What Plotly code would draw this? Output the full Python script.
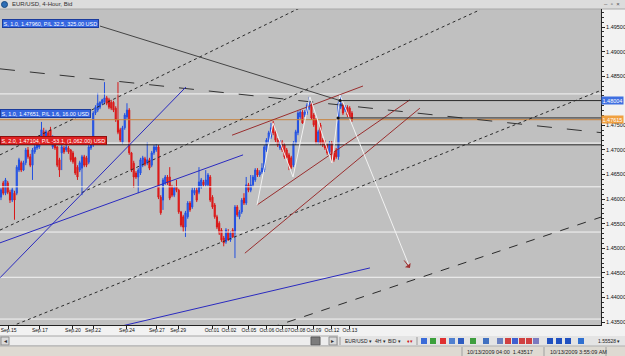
import plotly.graph_objects as go

# ---------------- data (EUR/USD 4-hour bars) ----------------
open_ = [1.4604, 1.4633, 1.4612, 1.4633, 1.4614, 1.4598, 1.4612, 1.4612, 1.4659, 1.4674,
         1.4659, 1.4674, 1.4700, 1.4686, 1.4669, 1.4696, 1.4704, 1.4706, 1.4726, 1.4737,
         1.4726, 1.4735, 1.4741, 1.4706, 1.4720, 1.4706, 1.4680, 1.4694, 1.4704, 1.4700,
         1.4704, 1.4700, 1.4694, 1.4684, 1.4665, 1.4659, 1.4663, 1.4686, 1.4684, 1.4675,
         1.4704, 1.4710, 1.4775, 1.4781, 1.4787, 1.4795, 1.4797, 1.4806, 1.4802, 1.4797,
         1.4797, 1.4785, 1.4761, 1.4741, 1.4716, 1.4745, 1.4767, 1.4781, 1.4694, 1.4673,
         1.4653, 1.4645, 1.4653, 1.4669, 1.4682, 1.4673, 1.4680, 1.4669, 1.4694, 1.4700,
         1.4706, 1.4604, 1.4598, 1.4633, 1.4645, 1.4645, 1.4625, 1.4608, 1.4625, 1.4618,
         1.4574, 1.4564, 1.4543, 1.4564, 1.4592, 1.4584, 1.4612, 1.4618, 1.4614, 1.4625,
         1.4635, 1.4629, 1.4629, 1.4645, 1.4604, 1.4588, 1.4564, 1.4551, 1.4537, 1.4521,
         1.4513, 1.4533, 1.4517, 1.4537, 1.4531, 1.4584, 1.4564, 1.4574, 1.4602, 1.4592,
         1.4629, 1.4618, 1.4629, 1.4639, 1.4659, 1.4649, 1.4655, 1.4659, 1.4700, 1.4716,
         1.4726, 1.4755, 1.4737, 1.4720, 1.4704, 1.4716, 1.4710, 1.4700, 1.4690, 1.4684,
         1.4669, 1.4714, 1.4735, 1.4767, 1.4777, 1.4771, 1.4775, 1.4785, 1.4793, 1.4771,
         1.4761, 1.4716, 1.4751, 1.4720, 1.4716, 1.4710, 1.4696, 1.4714, 1.4694, 1.4700,
         1.4686, 1.4787, 1.4791, 1.4781, 1.4787, 1.4785, 1.4775]
high_ = [1.4623, 1.4637, 1.4643, 1.4637, 1.4619, 1.4623, 1.4617, 1.4669, 1.4684, 1.4678,
         1.4678, 1.4704, 1.4706, 1.4692, 1.4704, 1.4710, 1.4714, 1.4730, 1.4757, 1.4745,
         1.4741, 1.4739, 1.4747, 1.4730, 1.4724, 1.4708, 1.4684, 1.4710, 1.4708, 1.4710,
         1.4708, 1.4702, 1.4698, 1.4686, 1.4669, 1.4678, 1.4690, 1.4690, 1.4688, 1.4710,
         1.4714, 1.4779, 1.4791, 1.4816, 1.4799, 1.4804, 1.4838, 1.4810, 1.4806, 1.4802,
         1.4800, 1.4789, 1.4838, 1.4745, 1.4749, 1.4775, 1.4795, 1.4785, 1.4696, 1.4678,
         1.4657, 1.4663, 1.4684, 1.4688, 1.4686, 1.4716, 1.4684, 1.4698, 1.4710, 1.4712,
         1.4710, 1.4608, 1.4643, 1.4649, 1.4649, 1.4665, 1.4629, 1.4627, 1.4639, 1.4621,
         1.4576, 1.4568, 1.4576, 1.4596, 1.4596, 1.4623, 1.4623, 1.4623, 1.4665, 1.4643,
         1.4639, 1.4659, 1.4653, 1.4649, 1.4608, 1.4592, 1.4568, 1.4555, 1.4541, 1.4525,
         1.4541, 1.4539, 1.4535, 1.4541, 1.4588, 1.4588, 1.4578, 1.4602, 1.4612, 1.4645,
         1.4633, 1.4649, 1.4649, 1.4663, 1.4663, 1.4659, 1.4673, 1.4710, 1.4724, 1.4739,
         1.4755, 1.4759, 1.4741, 1.4724, 1.4720, 1.4720, 1.4714, 1.4704, 1.4694, 1.4688,
         1.4718, 1.4741, 1.4779, 1.4781, 1.4781, 1.4781, 1.4795, 1.4808, 1.4797, 1.4775,
         1.4765, 1.4741, 1.4755, 1.4724, 1.4720, 1.4714, 1.4718, 1.4718, 1.4698, 1.4704,
         1.4799, 1.4812, 1.4795, 1.4791, 1.4791, 1.4789, 1.4779]
low_ = [1.4598, 1.4608, 1.4608, 1.4610, 1.4592, 1.4594, 1.4558, 1.4608, 1.4655, 1.4655,
        1.4657, 1.4669, 1.4682, 1.4665, 1.4639, 1.4692, 1.4700, 1.4702, 1.4722, 1.4720,
        1.4722, 1.4716, 1.4722, 1.4702, 1.4700, 1.4665, 1.4645, 1.4659, 1.4692, 1.4696,
        1.4692, 1.4676, 1.4672, 1.4649, 1.4639, 1.4655, 1.4608, 1.4665, 1.4665, 1.4671,
        1.4700, 1.4706, 1.4771, 1.4777, 1.4783, 1.4791, 1.4793, 1.4791, 1.4783, 1.4781,
        1.4777, 1.4757, 1.4732, 1.4716, 1.4712, 1.4741, 1.4763, 1.4690, 1.4655, 1.4623,
        1.4641, 1.4612, 1.4649, 1.4665, 1.4667, 1.4669, 1.4659, 1.4665, 1.4690, 1.4696,
        1.4600, 1.4568, 1.4578, 1.4629, 1.4629, 1.4598, 1.4604, 1.4604, 1.4614, 1.4570,
        1.4543, 1.4533, 1.4523, 1.4560, 1.4574, 1.4580, 1.4608, 1.4594, 1.4610, 1.4621,
        1.4625, 1.4625, 1.4625, 1.4594, 1.4580, 1.4560, 1.4539, 1.4527, 1.4513, 1.4504,
        1.4509, 1.4515, 1.4513, 1.4521, 1.4480, 1.4564, 1.4559, 1.4570, 1.4588, 1.4588,
        1.4614, 1.4614, 1.4625, 1.4635, 1.4645, 1.4645, 1.4651, 1.4655, 1.4696, 1.4712,
        1.4722, 1.4730, 1.4716, 1.4706, 1.4700, 1.4696, 1.4682, 1.4680, 1.4659, 1.4661,
        1.4665, 1.4710, 1.4730, 1.4763, 1.4753, 1.4767, 1.4771, 1.4781, 1.4761, 1.4747,
        1.4712, 1.4712, 1.4710, 1.4706, 1.4700, 1.4690, 1.4692, 1.4673, 1.4676, 1.4682,
        1.4680, 1.4783, 1.4771, 1.4777, 1.4767, 1.4763, 1.4757]
close_ = [1.4619, 1.4612, 1.4639, 1.4614, 1.4598, 1.4619, 1.4598, 1.4665, 1.4680, 1.4659,
          1.4674, 1.4700, 1.4686, 1.4669, 1.4700, 1.4706, 1.4710, 1.4726, 1.4741, 1.4726,
          1.4737, 1.4720, 1.4726, 1.4726, 1.4704, 1.4669, 1.4659, 1.4706, 1.4696, 1.4706,
          1.4696, 1.4680, 1.4676, 1.4653, 1.4645, 1.4674, 1.4686, 1.4669, 1.4669, 1.4706,
          1.4710, 1.4775, 1.4787, 1.4795, 1.4797, 1.4802, 1.4806, 1.4795, 1.4787, 1.4785,
          1.4781, 1.4761, 1.4736, 1.4720, 1.4745, 1.4771, 1.4781, 1.4694, 1.4659, 1.4645,
          1.4645, 1.4659, 1.4680, 1.4684, 1.4671, 1.4680, 1.4663, 1.4694, 1.4706, 1.4706,
          1.4604, 1.4572, 1.4639, 1.4645, 1.4633, 1.4602, 1.4608, 1.4623, 1.4618, 1.4574,
          1.4547, 1.4543, 1.4572, 1.4592, 1.4578, 1.4618, 1.4618, 1.4598, 1.4635, 1.4639,
          1.4629, 1.4639, 1.4649, 1.4598, 1.4584, 1.4564, 1.4543, 1.4531, 1.4517, 1.4511,
          1.4537, 1.4517, 1.4531, 1.4523, 1.4584, 1.4568, 1.4574, 1.4598, 1.4592, 1.4629,
          1.4618, 1.4629, 1.4645, 1.4659, 1.4649, 1.4655, 1.4663, 1.4706, 1.4720, 1.4735,
          1.4745, 1.4735, 1.4720, 1.4710, 1.4716, 1.4700, 1.4686, 1.4684, 1.4669, 1.4665,
          1.4714, 1.4737, 1.4775, 1.4777, 1.4755, 1.4777, 1.4791, 1.4798, 1.4765, 1.4751,
          1.4716, 1.4737, 1.4714, 1.4710, 1.4704, 1.4694, 1.4714, 1.4690, 1.4680, 1.4686,
          1.4795, 1.4795, 1.4775, 1.4787, 1.4771, 1.4767, 1.47615]
bar_index = list(range(len(open_)))

date_labels = ["Sep.15", "Sep.17", "Sep.20", "Sep.22", "Sep.24", "Sep.27", "Sep.29", "Oct.01",
               "Oct.02", "Oct.05", "Oct.06", "Oct.07", "Oct.08", "Oct.09", "Oct.12", "Oct.13"]
date_bar_pos = [3.4, 17.3, 32.0, 40.9, 56.0, 69.3, 78.7, 93.8,
                101.3, 110.2, 118.2, 125.3, 132.0, 139.1, 147.1, 155.1]
price_ticks = [1.435, 1.440, 1.445, 1.450, 1.455, 1.460, 1.465,
               1.470, 1.475, 1.480, 1.485, 1.490, 1.495]
hidden_tick = 1.480  # covered by the blue price tag in the picture

# drawn horizontal levels and trade levels
level_prices = [1.4814, 1.4714, 1.4625, 1.4533, 1.4441, 1.4356]
last_bid = 1.47615
alert_price = 1.48004
trade_labels = ["S, 1.0, 1.47960, P/L 32.5, 325.00 USD",
                "S, 1.0, 1.47651, P/L 1.6, 16.00 USD",
                "S, 2.0, 1.47104, P/L -53.1, (1,062.00) USD"]
trade_prices = [1.47960, 1.47651, 1.47104]
trade_entry_bar = [150.7, 149.8, -1.0]

# trend lines: (bar, price) end points
dotted_lines = [((-0.44, 1.4690), (132.9, 1.4989)),
                ((-0.44, 1.4537), (212.9, 1.4985)),
                ((-0.44, 1.4332), (267.1, 1.4822))]
short_dash_line = ((119.6, 1.4338), (267.1, 1.4564))
long_dash_line = ((-0.44, 1.4865), (267.1, 1.4735))
connector_line = ((44.0, 1.4952), (150.7, 1.48004))
blue_lines = [((-0.44, 1.4440), (82.2, 1.4828)),
              ((-0.44, 1.4511), (107.6, 1.4690)),
              ((53.8, 1.4342), (164.0, 1.4460))]
brown_lines = [((102.7, 1.4730), (160.9, 1.4830)),
               ((113.8, 1.4588), (181.8, 1.4802)),
               ((108.4, 1.4490), (186.2, 1.4785))]
zigzag_bar = [113.8, 120.9, 129.8, 137.3, 147.1, 150.7, 181.8]
zigzag_price = [1.4588, 1.4755, 1.4645, 1.4808, 1.4673, 1.4812, 1.4460]

# ---------------- geometry helpers for window chrome ----------------
W, H = 625, 356
ML, MR, MT, MB = 0, 24, 9, 31
PW, PH = W - ML - MR, H - MT - MB
X_RANGE = [-0.44, 266.7]
Y_RANGE = [1.43439, 1.49867]


def fx(px):
    return (px - ML) / PW


def fy(py):
    return (H - MB - py) / PH


FONT = "Liberation Sans"
fig = go.Figure()


def seg(p0, p1, color, dash="solid", width=1):
    fig.add_trace(go.Scatter(x=[p0[0], p1[0]], y=[p0[1], p1[1]], mode="lines",
                             line=dict(color=color, width=width, dash=dash),
                             hoverinfo="skip", showlegend=False))


# horizontal levels (below candles)
for lp in level_prices:
    seg((X_RANGE[0] - 1, lp), (X_RANGE[1] + 1, lp), "#F4F4F4")
seg((X_RANGE[0] - 1, trade_prices[2]), (X_RANGE[1] + 1, trade_prices[2]), "#2A2A2A")
seg((X_RANGE[0] - 1, last_bid), (X_RANGE[1] + 1, last_bid), "#C8823A")

fig.add_trace(go.Candlestick(
    x=bar_index, open=open_, high=high_, low=low_, close=close_,
    increasing=dict(line=dict(color="#2250E0", width=1), fillcolor="#2F62FF"),
    decreasing=dict(line=dict(color="#D81818", width=1), fillcolor="#EE2020"),
    whiskerwidth=0, hoverinfo="skip", showlegend=False))

# overlays
for a, b in dotted_lines:
    seg(a, b, "#2A2A2A", "dot")
seg(*short_dash_line, "#2A2A2A", "dash")
seg(*long_dash_line, "#333333", "longdash")
seg(*connector_line, "#444444")
for a, b in blue_lines:
    seg(a, b, "#2A2ABF")
for a, b in brown_lines:
    seg(a, b, "#9A2E2E")
fig.add_trace(go.Scatter(x=zigzag_bar, y=zigzag_price, mode="lines",
                         line=dict(color="#F2F2F2", width=1), hoverinfo="skip", showlegend=False))
seg((trade_entry_bar[0], alert_price), (X_RANGE[1] + 1, alert_price), "#2A2A2A")
seg((trade_entry_bar[1], trade_prices[1]), (X_RANGE[1] + 1, trade_prices[1]), "#2A2A2A")
fig.add_trace(go.Scatter(x=[trade_entry_bar[0], trade_entry_bar[1]], y=[alert_price, trade_prices[1]],
                         mode="markers", marker=dict(color="#111111", size=3),
                         hoverinfo="skip", showlegend=False))

shapes = []


def rect(x0, y0, x1, y1, fill, line=None, lw=0):
    shapes.append(dict(type="rect", xref="paper", yref="paper", x0=fx(x0), x1=fx(x1),
                       y0=fy(y1), y1=fy(y0), fillcolor=fill,
                       line=dict(color=line or fill, width=lw), layer="below"))


def hline(x0, x1, y, color):
    shapes.append(dict(type="line", xref="paper", yref="paper", x0=fx(x0), x1=fx(x1),
                       y0=fy(y), y1=fy(y), line=dict(color=color, width=1), layer="below"))


def vline(x, y0, y1, color):
    shapes.append(dict(type="line", xref="paper", yref="paper", x0=fx(x), x1=fx(x),
                       y0=fy(y0), y1=fy(y1), line=dict(color=color, width=1), layer="below"))


# title bar
rect(0, 0, W, 9, "#DCDCDC")
hline(0, W, 9, "#A8A8A8")
shapes.append(dict(type="circle", xref="paper", yref="paper", x0=fx(1.5), x1=fx(7.5),
                   y0=fy(7.5), y1=fy(1.5), fillcolor="#2D6DB5", line=dict(color="#1A4A80", width=1)))
# scrollbar
rect(0, 336, 338, 346, "#EDEDED", "#A8A8A8", 1)
rect(1, 337, 9, 345, "#DADADA", "#909090", 1)
rect(311, 337, 320, 345, "#7C7C7C", "#5A5A5A", 1)
rect(329, 337, 337, 345, "#DADADA", "#909090", 1)
# toolbar
rect(338, 336, W, 346, "#E4E4E4")
vline(340, 337, 345, "#9A9A9A")
vline(417, 337, 345, "#9A9A9A")
icon_x = [421, 430, 440, 449, 458, 470, 483, 497, 505, 512, 519, 526, 533, 547, 556, 565, 578]
icon_c = ["#3A6BD8", "#3BA03B", "#E03030", "#5080D0", "#2E5CC0", "#3E9E3E", "#4070C0",
          "#6A80C0", "#D04040", "#4060D0", "#D04040", "#D04040", "#7A7AC0", "#2050C0",
          "#2050C0", "#2050C0", "#3070D0"]
for ix, ic in zip(icon_x, icon_c):
    rect(ix, 338, ix + 6, 344, ic)
# status bar
rect(0, 346, W, H, "#DEDAD2")
hline(0, W, 346, "#B0B0B0")
vline(462, 347, 356, "#A0A0A0")
vline(544, 347, 356, "#A0A0A0")
vline(606, 347, 356, "#A0A0A0")

anns = []


def text(x, y, t, size=5.5, color="#222222", anchor="left"):
    anns.append(dict(xref="paper", yref="paper", x=fx(x), y=fy(y), text=t, showarrow=False,
                     xanchor=anchor, yanchor="middle", font=dict(size=size, color=color, family=FONT)))


text(10, 4.5, "EUR/USD, 4-Hour, Bid", 6, "#303030")
text(612, 4.2, "–  ▫  ×", 6, "#505050", "center")
text(5, 341, "◂", 6, "#303030", "center")
text(333, 341, "▸", 6, "#303030", "center")
text(343, 341, "EUR/USD ▾", 5)
text(373, 341, "4H ▾", 5)
text(386, 341, "BID ▾", 5)
text(405, 341, "♦▾", 5, "#D02020")
text(596, 341, "1.55528 ▾", 5)
text(465, 351.5, "10/13/2009 04:00  1.43517", 5.5)
text(548, 351.5, "10/13/2009 3:55:09 AM", 5.5)

# trade tags
anns.append(dict(xref="paper", yref="paper", x=fx(2), y=fy(23.5), text=trade_labels[0],
                 showarrow=False, xanchor="left", yanchor="middle", bgcolor="#3566E0",
                 bordercolor="#1C3C9C", borderwidth=1, borderpad=0.5,
                 font=dict(size=5.5, color="white", family=FONT)))
anns.append(dict(xref="paper", yref="y", x=0, y=trade_prices[1], text=trade_labels[1],
                 showarrow=False, xanchor="left", yanchor="bottom", bgcolor="#3566E0",
                 bordercolor="#1C3C9C", borderwidth=1, borderpad=0.5,
                 font=dict(size=5.5, color="white", family=FONT)))
anns.append(dict(xref="paper", yref="y", x=0, y=trade_prices[2], text=trade_labels[2],
                 showarrow=False, xanchor="left", yanchor="bottom", bgcolor="#E02222",
                 bordercolor="#901010", borderwidth=1, borderpad=0.5,
                 font=dict(size=5.5, color="white", family=FONT)))
# right axis price tags
anns.append(dict(xref="paper", yref="y", x=1.0, y=alert_price, text=f"{alert_price:.5f}",
                 showarrow=False, xanchor="left", yanchor="middle", bgcolor="#3F6FE0",
                 borderpad=0.5, font=dict(size=5.5, color="white", family=FONT)))
anns.append(dict(xref="paper", yref="y", x=1.0, y=last_bid, text=f"{last_bid:.5f}",
                 showarrow=False, xanchor="left", yanchor="middle", bgcolor="#F0A040",
                 borderpad=0.5, font=dict(size=5.5, color="white", family=FONT)))
# projection arrow head
anns.append(dict(xref="x", yref="y", x=zigzag_bar[-1], y=zigzag_price[-1], ax=-7, ay=-9,
                 text="", showarrow=True, arrowhead=1, arrowsize=1.2, arrowwidth=1,
                 arrowcolor="#A03030"))

y_ticktext = ["" if abs(p - hidden_tick) < 1e-9 else f"{p:.5f}" for p in price_ticks]

fig.update_layout(
    template="none", width=W, height=H,
    margin=dict(l=ML, r=MR, t=MT, b=MB, pad=0),
    plot_bgcolor="#C0C0C0", paper_bgcolor="#F2F2F2",
    showlegend=False, shapes=shapes, annotations=anns,
    xaxis=dict(range=X_RANGE, rangeslider=dict(visible=False), showgrid=False, zeroline=False,
               tickmode="array", tickvals=date_bar_pos, ticktext=date_labels, tickangle=0,
               ticks="outside", ticklen=3, tickcolor="#222", showline=True, linecolor="#222",
               linewidth=1, ticklabelstandoff=-3, ticklabeloverflow="allow",
               tickfont=dict(size=5, color="#111", family=FONT), automargin=False),
    yaxis=dict(range=Y_RANGE, side="right", showgrid=False, zeroline=False,
               tickmode="array", tickvals=price_ticks, ticktext=y_ticktext,
               ticks="outside", ticklen=3, tickcolor="#222", showline=True, linecolor="#222",
               linewidth=1, tickfont=dict(size=5.5, color="#111", family=FONT), automargin=False,
               minor=dict(dtick=0.001, ticks="outside", ticklen=2, tickcolor="#333", showgrid=False)),
)

fig.write_html("out.html")
